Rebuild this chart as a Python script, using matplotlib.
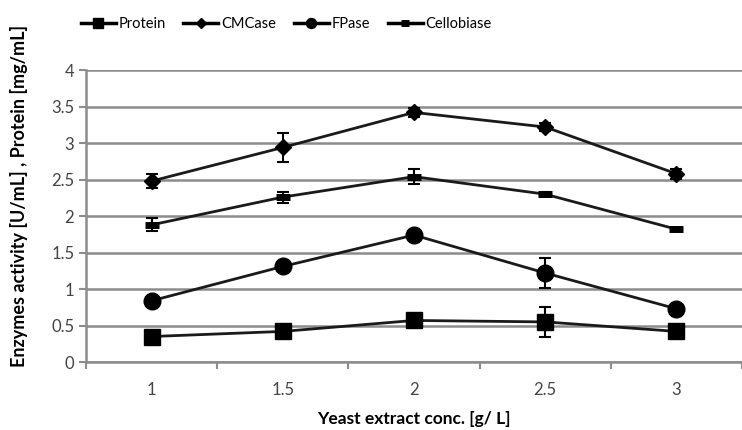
import numpy as np
import matplotlib.pyplot as plt

plt.rcParams.update({"font.family": ["Lato", "DejaVu Sans"], "font.size": 11})

conc = ["1", "1.5", "2", "2.5", "3"]

protein = [0.35, 0.42, 0.57, 0.55, 0.42]
protein_err = [0.03, 0.03, 0.04, 0.2, 0.03]
cmcase = [2.48, 2.94, 3.42, 3.22, 2.58]
cmcase_err = [0.1, 0.2, 0.06, 0.05, 0.07]
fpase = [0.84, 1.31, 1.74, 1.22, 0.73]
fpase_err = [0.04, 0.04, 0.06, 0.2, 0.05]
cellobiase = [1.88, 2.26, 2.54, 2.30, 1.82]
cellobiase_err = [0.09, 0.075, 0.1, 0.03, 0.0]

fig = plt.figure(figsize=(7.42, 4.30), dpi=100)
ax = fig.add_axes([0.116, 0.158, 0.884, 0.679])

x = np.arange(len(conc))
series = [
    ("Protein", protein, protein_err, "s", 11.5, {}),
    ("CMCase", cmcase, cmcase_err, "D", 8, {}),
    ("FPase", fpase, fpase_err, "o", 12, {}),
    ("Cellobiase", cellobiase, cellobiase_err, "_", 10, {"markeredgewidth": 5}),
]
for name, y, err, m, ms, extra in series:
    ax.errorbar(x, y, yerr=err, fmt="none", ecolor="black", elinewidth=1.5,
                capsize=4, capthick=1.5, zorder=4)
    ax.plot(x, y, color="#1a1a1a", lw=2, marker=m, ms=ms,
            markerfacecolor="black", markeredgecolor="black",
            label=name, zorder=5, **extra)

ax.set_xlim(-0.5, 4.5)
ax.set_ylim(0, 4)
ax.set_yticks(np.arange(0, 4.01, 0.5))
ax.set_yticklabels(["0", "0.5", "1", "1.5", "2", "2.5", "3", "3.5", "4"])
ax.yaxis.grid(True, color="#8c8c8c", lw=1.8)
ax.set_axisbelow(True)

ax.set_xticks(np.arange(-0.5, 4.6, 1))
ax.set_xticklabels([])
ax.set_xticks(x, minor=True)
ax.set_xticklabels(conc, minor=True)
ax.tick_params(axis="x", which="major", length=5, width=1.5, color="#8c8c8c")
ax.tick_params(axis="x", which="minor", length=0, pad=14, labelsize=12, labelcolor="#444444")
ax.tick_params(axis="y", length=5, width=1.5, color="#8c8c8c", labelsize=12, labelcolor="#444444")

for s in ["top", "right"]:
    ax.spines[s].set_visible(False)
for s in ["left", "bottom"]:
    ax.spines[s].set_color("#8c8c8c")
    ax.spines[s].set_linewidth(1.8)

ax.set_xlabel("Yeast extract conc. [g/ L]", fontweight="bold", fontsize=12.5)
ax.xaxis.set_label_coords(0.5, -0.168)
ax.set_ylabel("Enzymes activity [U/mL] , Protein [mg/mL]", fontweight="bold", fontsize=13)
ax.yaxis.set_label_coords(-0.088, 0.568)

leg_handles = []
for name, y, err, m, ms, extra in series:
    leg_handles.append(plt.Line2D([0], [0], color="black", lw=2.5, marker=m,
                                  ms=ms * 0.6, markerfacecolor="black",
                                  markeredgecolor="black", label=name, **extra))
fig.legend(handles=leg_handles, loc="center left", bbox_to_anchor=(0.095, 0.945), ncol=4,
           frameon=False, fontsize=10.5, handlelength=2.4, handletextpad=0.2,
           columnspacing=1.2, borderpad=0.2)

fig.savefig("out.png", dpi=100)
